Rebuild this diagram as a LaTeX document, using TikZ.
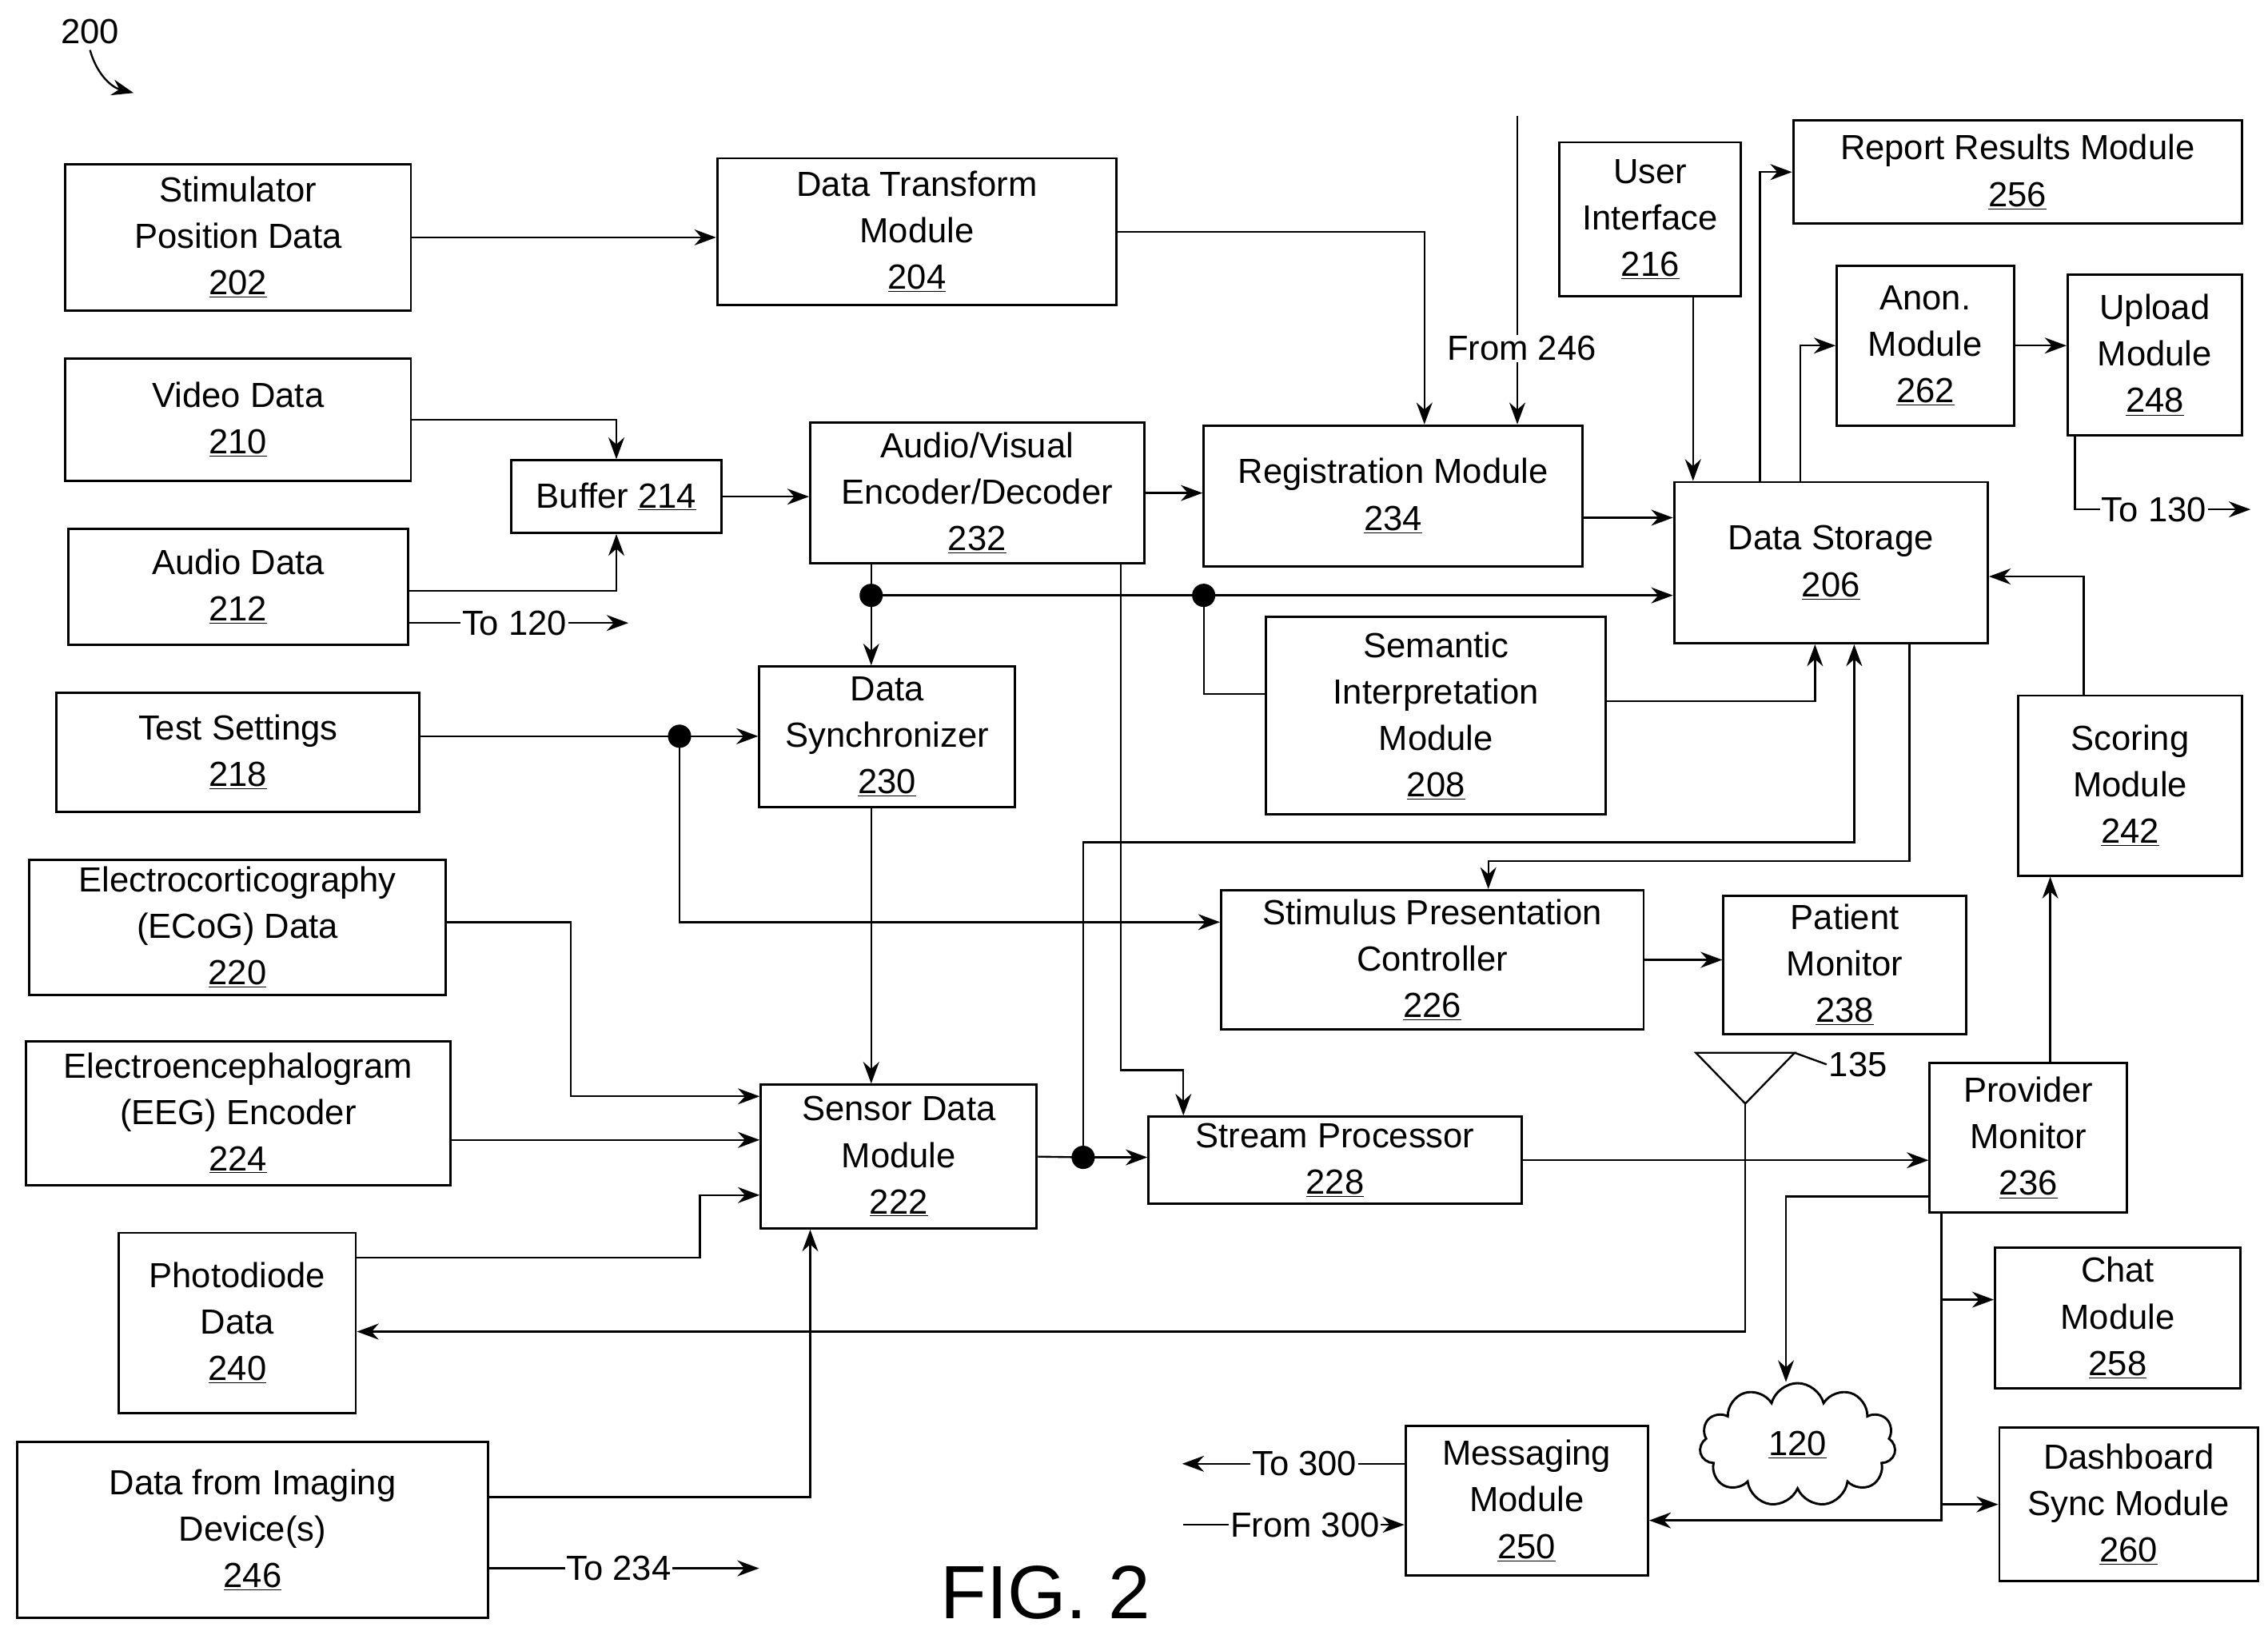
\documentclass[tikz,border=0pt]{standalone}
\usepackage{fontspec}
\setmainfont{Liberation Sans}
\usetikzlibrary{arrows.meta,shapes.symbols}
\newcommand{\bx}[6]{\node[box,minimum width={(#4-#2)*1pt},minimum height={(#5-#3)*1pt}] (#1) at ({(#2+#4)/2},{(#3+#5)/2}) {#6};}
\newcommand{\ul}[1]{\underline{#1}}
\begin{document}
\begin{tikzpicture}[x=1pt,y=-1pt,
  box/.style={draw,line width=1.6pt,align=center,inner sep=0pt,font=\fontsize{24}{32}\selectfont},
  arr/.style={line width=1.3pt,-{Stealth[length=15pt,width=11pt]}},
  lab/.style={fill=white,inner sep=1pt,font=\fontsize{24}{30}\selectfont},
  every path/.append style={line width=1.3pt}]
\useasboundingbox (0,0) rectangle (1562,1128.6);
\bx{202}{45}{113}{283}{214}{Stimulator\\Position Data\\\ul{202}}
\bx{204}{494}{109}{769}{210}{Data Transform\\Module\\\ul{204}}
\bx{210}{45}{247}{283}{331}{Video Data\\\ul{210}}
\bx{212}{47}{364}{281}{444}{Audio Data\\\ul{212}}
\bx{214}{352}{317}{497}{367}{Buffer \ul{214}}
\bx{232}{558}{291}{788}{388}{Audio/Visual\\Encoder/Decoder\\\ul{232}}
\bx{234}{829}{293}{1090}{390}{Registration Module\\\ul{234}}
\bx{216}{1074}{98}{1199}{204}{User\\Interface\\\ul{216}}
\bx{256}{1235}{83}{1544}{154}{Report Results Module\\\ul{256}}
\bx{262}{1265}{183}{1387}{293}{Anon.\\Module\\\ul{262}}
\bx{248}{1424}{189}{1544}{300}{Upload\\Module\\\ul{248}}
\bx{206}{1153}{332}{1369}{443}{Data Storage\\\ul{206}}
\bx{208}{872}{425}{1106}{561}{Semantic\\Interpretation\\Module\\\ul{208}}
\bx{218}{39}{477}{289}{559}{Test Settings\\\ul{218}}
\bx{230}{523}{459}{699}{556}{Data\\Synchronizer\\\ul{230}}
\bx{242}{1390}{479}{1544}{603}{Scoring\\Module\\\ul{242}}
\bx{220}{20}{592}{307}{685}{Electrocorticography\\(ECoG) Data\\\ul{220}}
\bx{226}{841}{613}{1132}{709}{Stimulus Presentation\\Controller\\\ul{226}}
\bx{238}{1187}{617}{1354}{712}{Patient\\Monitor\\\ul{238}}
\bx{224}{18}{717}{310}{816}{Electroencephalogram\\(EEG) Encoder\\\ul{224}}
\bx{222}{524}{747}{714}{846}{Sensor Data\\Module\\\ul{222}}
\bx{228}{791}{769}{1048}{829}{Stream Processor\\\ul{228}}
\bx{236}{1329}{732}{1465}{835}{Provider\\Monitor\\\ul{236}}
\bx{240}{82}{849}{245}{973}{Photodiode\\Data\\\ul{240}}
\bx{258}{1374}{859}{1543}{956}{Chat\\Module\\\ul{258}}
\bx{246}{12}{993}{336}{1114}{Data from Imaging\\Device(s)\\\ul{246}}
\bx{250}{968}{982}{1135}{1085}{Messaging\\Module\\\ul{250}}
\bx{260}{1377}{983}{1555}{1089}{Dashboard\\Sync Module\\\ul{260}}
\node[cloud,draw,line width=1.6pt,cloud puffs=11,minimum width=135pt,minimum height=85pt,font=\fontsize{24}{30}\selectfont] (cloud) at (1238,995) {\ul{120}};
\node[font=\fontsize{24}{30}\selectfont] (l200) at (62,22) {200};
\node[font=\fontsize{52}{58}\selectfont] (fig) at (720,1097) {FIG. 2};
\coordinate (c200) at (92,64);
\draw[arr] (l200.south) to[bend right=30] (c200);
% connectors
\draw[arr] (202.east) -- (202.east -| 204.west);
\draw[arr] (204.east) -| ([xshift=21.5pt]234.north);
\coordinate (f246) at (1045,80);
\draw[arr] (f246) -- (f246 |- 234.north);
\node[lab] (t246) at (1048,240) {From 246};
\draw[arr] (210.east) -| (214.north);
\draw[arr] ([yshift=-3pt]212.east) -| (214.south);
\draw[arr] ([yshift=-25pt]212.east) -- ++(151,0) node[lab,pos=0.48]{To 120};
\draw[arr] (214.east) -- (214.east -| 232.west);
\draw[arr] (232.east) -- (232.east -| 234.west);
\draw[arr] ([yshift=-15pt]234.east) -- ([yshift=-15pt]234.east -| 206.west);
\draw[arr] ([xshift=29.5pt]216.south) -- ([xshift=29.5pt]216.south |- 206.north);
\draw[arr] ([xshift=-49pt]206.north) |- (256.west);
\draw[arr] ([xshift=-21pt]206.north) |- (262.west);
\draw[arr] (262.east) -- (262.east -| 248.west);
\draw[arr] ([xshift=-55pt]248.south) -- ++(0,50) -- ++(121,0) node[lab,pos=0.45]{To 130};
\coordinate (d1) at (600,410);
\coordinate (d2) at (829,410);
\coordinate (d3) at (746,797);
\coordinate (d4) at (468,507);
\draw (232.south -| d1) -- (d1);
\draw[arr] (d1) -- (d1 |- 230.north);
\draw[arr] (d1) -- (d1 -| 206.west);
\draw (d2) |- ([yshift=15pt]208.west);
\draw[arr] ([yshift=10pt]208.east) -| ([xshift=-11pt]206.south);
\draw[arr] (d3) -- (746,580) -| ([xshift=16pt]206.south);
\draw[arr] ([xshift=54pt]206.south) -- ++(0,149) -| ([xshift=38.5pt]226.north);
\draw[arr] ([xshift=99pt]232.south) -- (772,737) -| ([xshift=-104.5pt]228.north);
\draw (218.east |- d4) -- (d4);
\draw[arr] (d4) -- (d4 -| 230.west);
\draw[arr] (d4) |- ([yshift=26pt]226.west);
\draw[arr] (230.south -| d1) -- (d1 |- 222.north);
\draw[arr] ([yshift=3.5pt]220.east) -- (393,635) |- ([yshift=41.5pt]222.west);
\draw[arr] ([yshift=-18.5pt]224.east) -- ([yshift=-18.5pt]224.east -| 222.west);
\draw[arr] ([yshift=45pt]240.east) -- (482,866) |- ([yshift=-26.5pt]222.west);
\draw[arr] ([yshift=22.5pt]246.east) -| ([xshift=-61pt]222.south);
\draw[arr] ([yshift=-26.5pt]246.east) -- ++(186,0) node[lab,pos=0.48]{To 234};
\draw (222.east) -- (d3);
\draw[arr] (d3) -- (d3 -| 228.west);
\draw[arr] (226.east) -- (226.east -| 238.west);
\draw[arr] (228.east) -- (228.east -| 236.west);
\draw[arr] ([xshift=15pt]236.north) -- ([xshift=15pt]236.north |- 242.south);
\draw[arr] ([xshift=-32pt]242.north) |- ([yshift=-9.5pt]206.east);
\draw[arr] ([yshift=-40.5pt]236.west) -| ([xshift=-8pt]cloud.north);
\draw[arr] ([xshift=-60pt]236.south) |- ([yshift=-13.5pt]250.east);
\draw[arr] (1337,895) -- ([yshift=12.5pt]258.west);
\draw[arr] (1337,1036) -- (260.west);
\draw[arr] ([yshift=25.5pt]250.west) -- ++(-153,0) node[lab,pos=0.45]{To 300};
\coordinate (f300) at (815,1050);
\draw[arr] (f300) -- ([yshift=-16.5pt]250.west) node[lab,pos=0.55]{From 300};
\coordinate (ant) at (1202,760);
\draw[line width=1.3pt] (1168,725) -- (1236,725) -- (ant) -- cycle;
\draw[arr] (ant) -- (1202,917) -- ([yshift=-6pt]240.east);
\draw (1236,725) -- (1258,733) node[right,inner sep=1pt,font=\fontsize{24}{30}\selectfont] (l135) {135};
\foreach \d in {d1,d2,d3,d4} \fill (\d) circle (8pt);
\end{tikzpicture}
\end{document}
